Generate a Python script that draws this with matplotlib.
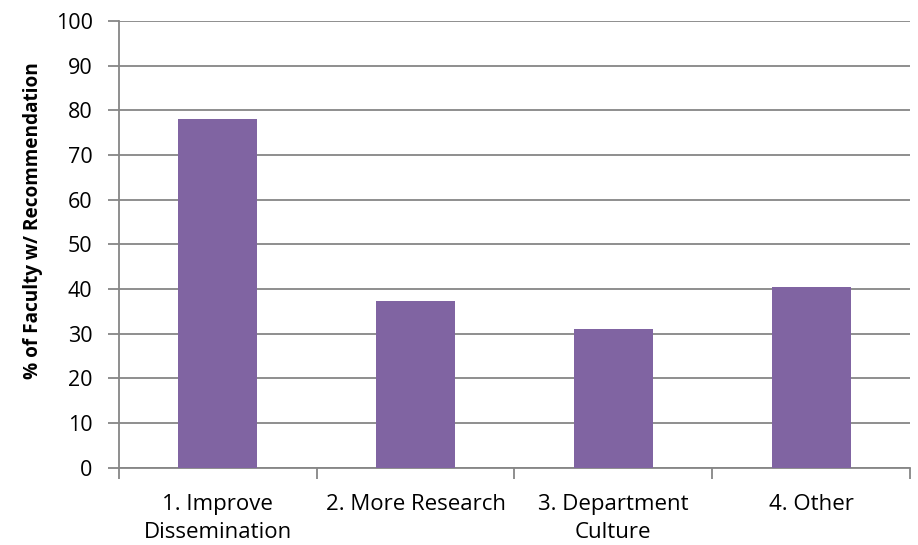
import matplotlib
matplotlib.use("Agg")
import matplotlib.pyplot as plt
import numpy as np

categories = ["1. Improve\nDissemination", "2. More Research", "3. Department\nCulture", "4. Other"]
values = [78.0, 37.4, 31.1, 40.5]

bar_color = "#8064A2"
grid_color = "#868686"

plt.rcParams['font.family'] = ['Open Sans', 'DejaVu Sans']

fig = plt.figure(figsize=(9.18, 5.45), dpi=100)
ax = fig.add_axes([0.1296, 0.1418, 0.8617, 0.820])

x = np.arange(len(categories))
ax.bar(x, values, width=0.4, color=bar_color, zorder=3)

ax.set_xlim(-0.5, len(categories) - 0.5)
ax.set_ylim(0, 100)
ax.set_yticks(np.arange(0, 101, 10))
ax.yaxis.grid(True, color=grid_color, linewidth=1.3, zorder=0)

# category labels sit between the boundary ticks
ax.set_xticks(np.arange(-0.5, len(categories), 1.0))
ax.set_xticklabels([])
ax.set_xticks(x, minor=True)
ax.set_xticklabels(categories, minor=True, fontsize=16, linespacing=1.4)
ax.tick_params(axis='x', which='minor', length=0, pad=19)
ax.tick_params(axis='x', which='major', length=8, width=1.3, color=grid_color, direction='out')
ax.tick_params(axis='y', length=8, width=1.3, color=grid_color, direction='out', labelsize=15.5, pad=11)

for side in ['top', 'right']:
    ax.spines[side].set_visible(False)
for side in ['left', 'bottom']:
    ax.spines[side].set_color(grid_color)
    ax.spines[side].set_linewidth(1.3)

ax.set_ylabel("% of Faculty w/ Recommendation", fontsize=13.7, fontweight='bold')
ax.yaxis.set_label_coords(-0.096, 0.554)

fig.savefig("out.png", dpi=100)
